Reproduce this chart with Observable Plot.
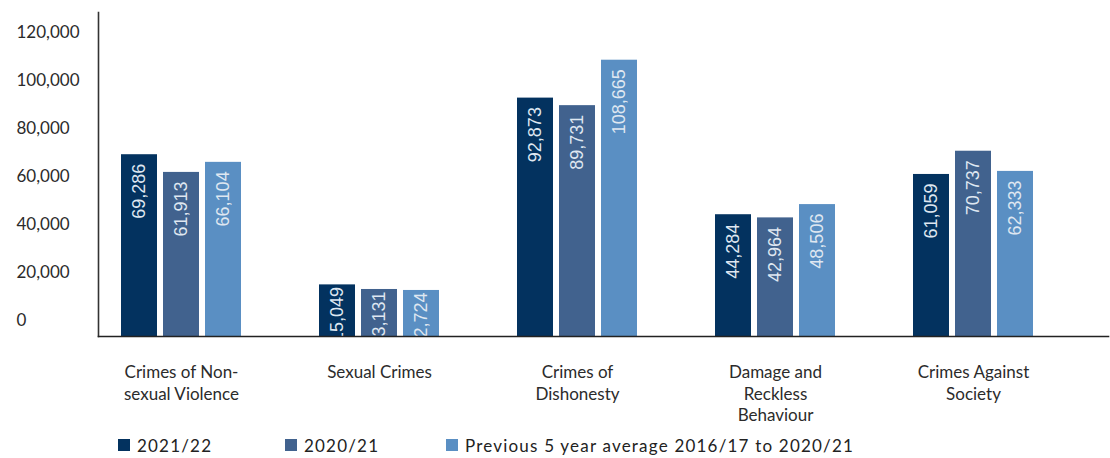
<!DOCTYPE html>
<html><head><meta charset="utf-8">
<script src="https://cdn.jsdelivr.net/npm/d3@7"></script>
<script src="https://cdn.jsdelivr.net/npm/@observablehq/plot@0.6"></script>
<style>
body{margin:0;background:#fff;font-family:Lato,sans-serif;}
#legend{display:flex;align-items:center;padding-left:118px;height:26px;font-size:17px;letter-spacing:1.2px;color:#222;font-family:Lato,sans-serif;}
.item{display:flex;align-items:center;}
.sw{width:12px;height:12px;margin-right:7px;flex:none;}
</style></head><body><div id="chart"></div><div id="legend"></div>
<script>
const categories = ["Crimes of Non-sexual Violence","Sexual Crimes","Crimes of Dishonesty","Damage and Reckless Behaviour","Crimes Against Society"];
const categoryLabels = ["Crimes of Non-\nsexual Violence","Sexual Crimes","Crimes of\nDishonesty","Damage and\nReckless\nBehaviour","Crimes Against\nSociety"];
const series = ["2021/22","2020/21","Previous 5 year average 2016/17 to 2020/21"];
const values2122 = [69286,15049,92873,44284,61059];
const values2021 = [61913,13131,89731,42964,70737];
const valuesAvg = [66104,12724,108665,48506,62333];
const yTicks = [0,20000,40000,60000,80000,100000,120000];
const colors = ["#03325f","#41628e","#5a8fc3"];

const seriesValues = [values2122, values2021, valuesAvg];
const data = [];
series.forEach((s,i)=>categories.forEach((c,j)=>data.push({category:c, series:s, value:seriesValues[i][j]})));
const fmt = d3.format(",");
const labelOf = new Map(categories.map((c,i)=>[c,categoryLabels[i]]));

const offsets = [-42,0,42];
const labelStyle = {x:"category",y:"value",text:d=>fmt(d.value),rotate:-90,textAnchor:"end",fill:"#dfe7f1",fontSize:18,fontFamily:"Liberation Sans, Arial, sans-serif",clip:"frame"};
const marks = [];
series.forEach((s,i)=>{
  const rows = data.filter(d=>d.series===s);
  marks.push(Plot.barY(rows,{x:"category",y:"value",fill:"series",dx:offsets[i],insetLeft:81,insetRight:81,insetBottom:-15.5}));
  marks.push(Plot.text(rows.filter(d=>d.value>=20000),{...labelStyle,dx:offsets[i],dy:9}));
  marks.push(Plot.text(rows.filter(d=>d.value<20000),{...labelStyle,dx:offsets[i],dy:2}));
});

const chart = Plot.plot({
  width:1110, height:432,
  marginLeft:98, marginRight:2, marginTop:12, marginBottom:96,
  style:{fontFamily:"Lato, sans-serif", color:"#2b2b2b", background:"#fff"},
  x:{domain:categories, range:[82,1072], padding:0, axis:null},
  y:{domain:[0,120000], range:[320.5,32.5], axis:null},
  color:{domain:series, range:colors},
  marks:[
    Plot.axisY(yTicks,{label:null, tickSize:0, tickPadding:82, textAnchor:"start", tickFormat:fmt, fontSize:17, fill:"#2b2b2b"}),
    ...marks,
    Plot.frame({anchor:"left", stroke:"#333", strokeWidth:1.6}),
    Plot.frame({anchor:"bottom", stroke:"#222", strokeWidth:1.6}),
    Plot.text(categories,{x:d=>d, text:d=>labelOf.get(d), frameAnchor:"bottom", lineAnchor:"top", dy:26, lineHeight:1.28, fontSize:17, fill:"#2b2b2b", style:"letter-spacing:0.4px"})
  ]
});
document.getElementById("chart").appendChild(chart);

const color = chart.scale("color");
const widths = [167,161,null];
const legend = d3.select("#legend");
series.forEach((s,i)=>{
  const it = legend.append("div").attr("class","item");
  if (widths[i]) it.style("width", widths[i]+"px");
  it.append("div").attr("class","sw").style("background", color.apply(s));
  it.append("span").text(s);
});
</script></body></html>
